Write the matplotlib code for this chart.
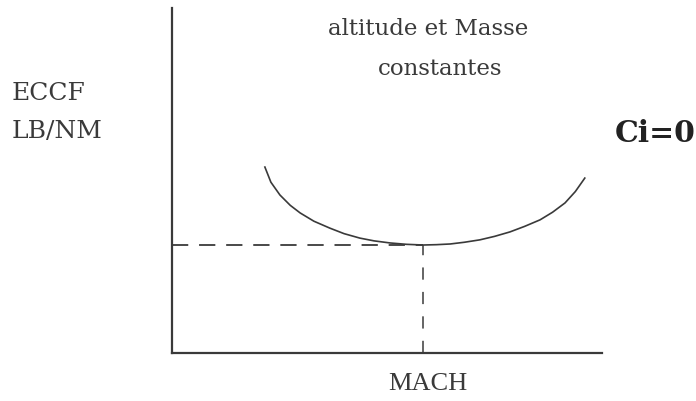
import matplotlib.pyplot as plt

plt.rcParams['font.family'] = ['Liberation Serif', 'DejaVu Serif']

W, H = 696, 401

# curve (arbitrary units, axes span 0..100)
mach = [21.6, 23.0, 25.1, 27.5, 29.8, 33.0, 36.7, 40.0, 43.7, 47.0, 50.7, 54.5, 58.4,
        61.5, 64.7, 68.0, 71.6, 75.0, 78.6, 82.0, 85.6, 88.5, 91.4, 93.8, 96.0]
eccf = [53.9, 49.5, 45.8, 42.8, 40.6, 38.2, 36.2, 34.6, 33.3, 32.5, 31.9, 31.5, 31.3,
        31.4, 31.6, 32.1, 32.8, 33.8, 35.1, 36.7, 38.6, 40.8, 43.5, 46.8, 50.7]
opt_mach = 58.4
opt_eccf = 31.3

line_color = '#3a3a3a'
text_color = '#3a3a3a'

fig = plt.figure(figsize=(W / 100, H / 100), dpi=100)
fig.patch.set_facecolor('white')

ax = fig.add_axes([172 / W, (H - 353) / H, (602 - 172) / W, (353 - 8) / H])
ax.set_xlim(0, 100)
ax.set_ylim(0, 100)
for side in ['top', 'right']:
    ax.spines[side].set_visible(False)
for side in ['left', 'bottom']:
    ax.spines[side].set_color(line_color)
    ax.spines[side].set_linewidth(1.6)
ax.set_xticks([])
ax.set_yticks([])

ax.plot(mach, eccf, color=line_color, lw=1.2)
ax.plot([0, opt_mach], [opt_eccf, opt_eccf], color=line_color, lw=1.3,
        dashes=(9, 6))
ax.plot([opt_mach, opt_mach], [0, opt_eccf], color=line_color, lw=1.1,
        dashes=(8, 8))

def ftext(px, py, s, color=text_color, **kw):
    fig.text(px / W, 1 - py / H, s, color=color, **kw)

ftext(12, 93, 'ECCF', fontsize=18, ha='left', va='center', family='DejaVu Serif')
ftext(12, 132, 'LB/NM', fontsize=18, ha='left', va='center', family='DejaVu Serif')
ftext(428, 29, 'altitude et Masse', fontsize=16.5, ha='center', va='center',
      family='DejaVu Serif')
ftext(440, 69, 'constantes', fontsize=16.5, ha='center', va='center',
      family='DejaVu Serif')
ftext(655, 133, 'Ci=0', fontsize=21.5, ha='center', va='center', weight='bold',
      family='DejaVu Serif', color='#222222')
ftext(428, 384, 'MACH', fontsize=19, ha='center', va='center')

fig.savefig('out.png', dpi=100, facecolor='white')
